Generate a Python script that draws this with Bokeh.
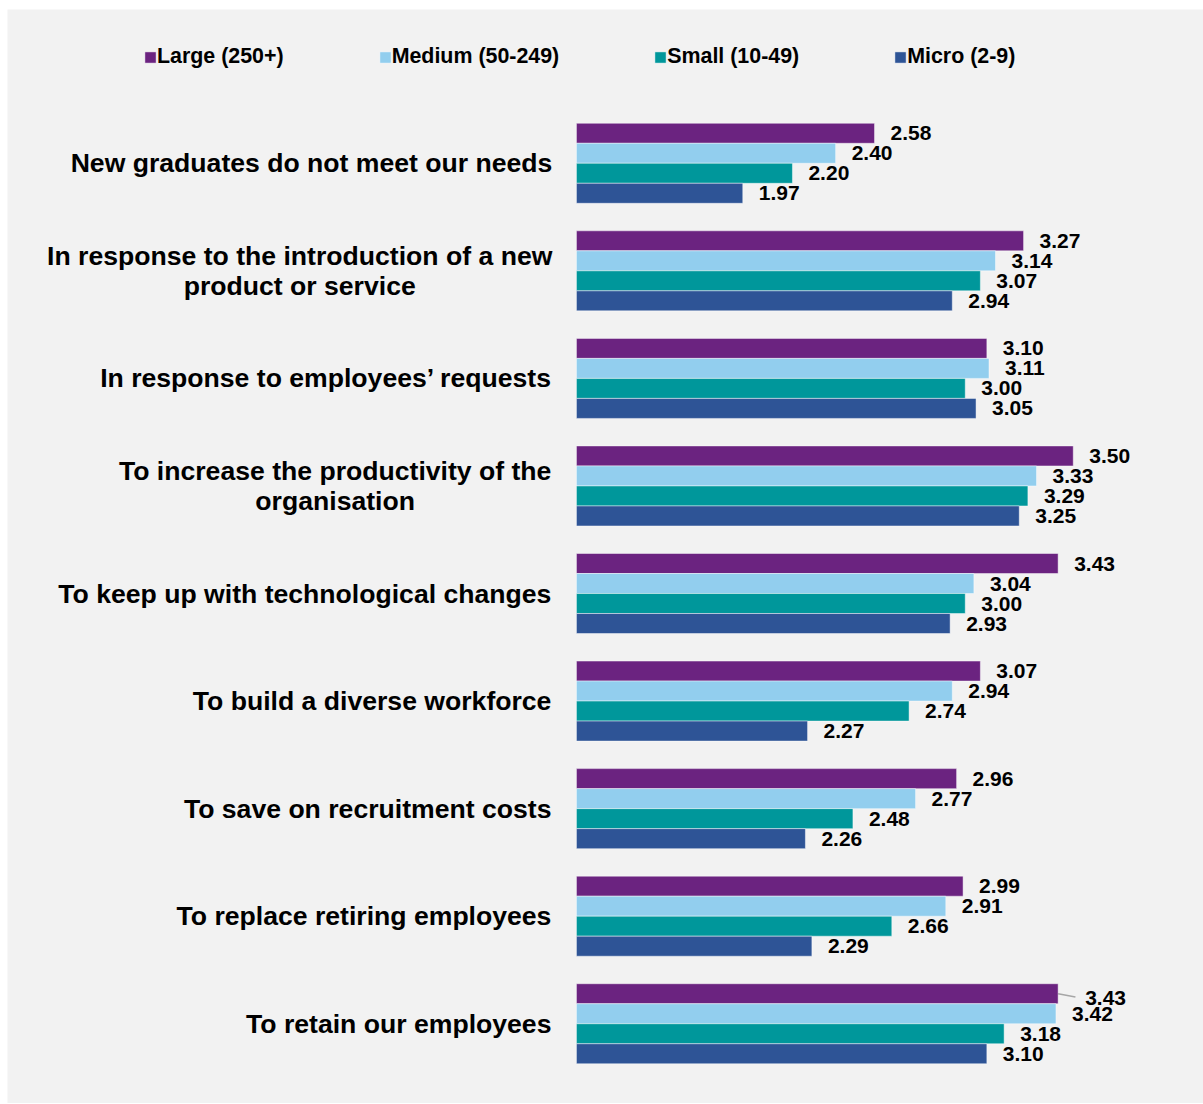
from bokeh.plotting import figure
from bokeh.models import ColumnDataSource, Range1d, LabelSet, Legend, LegendItem
from bokeh.core.properties import value
from bokeh.embed import file_html
from bokeh.resources import INLINE

categories = [
    "New graduates do not meet our needs",
    "In response to the introduction of a new\nproduct or service",
    "In response to employees\u2019 requests",
    "To increase the productivity of the\norganisation",
    "To keep up with technological changes",
    "To build a diverse workforce",
    "To save on recruitment costs",
    "To replace retiring employees",
    "To retain our employees",
]
series_names = ["Large (250+)", "Medium (50-249)", "Small (10-49)", "Micro (2-9)"]
large = [2.58, 3.27, 3.10, 3.50, 3.43, 3.07, 2.96, 2.99, 3.43]
medium = [2.40, 3.14, 3.11, 3.33, 3.04, 2.94, 2.77, 2.91, 3.42]
small = [2.20, 3.07, 3.00, 3.29, 3.00, 2.74, 2.48, 2.66, 3.18]
micro = [1.97, 2.94, 3.05, 3.25, 2.93, 2.27, 2.26, 2.29, 3.10]
colors = ["#6b2380", "#92ceee", "#00979b", "#2e5496"]

XMIN = 1.2            # value where bars start
BAR_H = 0.186
FONT = "Liberation Sans"
CAT_SIZE = 26.6       # px
STANDOFF = 24         # px between label block and bar start

# Liberation Sans Bold advance widths (per 1000 em) for measuring label lines
W = {" ": 278, "\u2019": 278, "a": 556, "b": 611, "c": 556, "d": 611, "e": 556, "f": 333,
     "g": 611, "h": 611, "i": 278, "j": 278, "k": 556, "l": 278, "m": 889, "n": 611,
     "o": 611, "p": 611, "q": 611, "r": 389, "s": 556, "t": 333, "u": 611, "v": 556,
     "w": 778, "x": 556, "y": 556, "z": 500, "I": 278, "T": 611, "N": 722}


def block_width(s):
    return max(sum(W.get(ch, 556) for ch in line) for line in s.split("\n")) * CAT_SIZE / 1000.0


p = figure(width=1196, height=1094, x_range=Range1d(-1.434, 4.103), y_range=Range1d(8.7414, -1.4297),
           output_backend="svg", toolbar_location=None,
           min_border_left=0, min_border_right=0, min_border_top=0, min_border_bottom=0,
           background_fill_color="#f2f2f2", border_fill_color="#f2f2f2", outline_line_color=None)
p.margin = (9, 0, 1, 7)
p.xgrid.visible = False
p.ygrid.visible = False
p.xaxis.visible = False
p.yaxis.visible = False

# category labels (lines centred within a block whose right edge sits before the bars)
cat_src = ColumnDataSource(dict(
    x=[XMIN] * len(categories), y=list(range(len(categories))), txt=categories,
    xo=[-(STANDOFF + block_width(c) / 2.0) for c in categories]))
p.text(x="x", y="y", text="txt", source=cat_src, x_offset="xo", text_align="center",
       text_baseline="middle", text_font=value(FONT), text_font_style="bold",
       text_font_size=value("%spx" % CAT_SIZE), text_color="black", text_line_height=1.0)

renderers = []
all_series = [large, medium, small, micro]
for k, (vals, col) in enumerate(zip(all_series, colors)):
    off = (k - 1.5) * BAR_H
    ys = [i + off for i in range(len(categories))]
    xo = [16] * len(vals)
    yo = [0] * len(vals)
    if k == 0:
        xo[-1] = 27
        yo[-1] = -4
    src = ColumnDataSource(dict(y=ys, right=vals, left=[XMIN] * len(vals),
                                txt=["%.2f" % v for v in vals], xo=xo, yo=yo))
    r = p.hbar(y="y", left="left", right="right", height=BAR_H, source=src,
               fill_color=col, line_color="white", line_alpha=0.45, line_width=1)
    renderers.append(r)
    p.add_layout(LabelSet(x="right", y="y", text="txt", source=src, x_offset="xo", y_offset="yo",
                          text_baseline="middle", text_align="left", text_font=value(FONT),
                          text_font_style="bold", text_font_size=value("21px"), text_color="black"))

# leader line for the shifted label in the last group
last_y = len(categories) - 1 - 1.5 * BAR_H
p.segment(x0=[large[-1]], y0=[last_y], x1=[large[-1] + 0.08], y1=[last_y + 0.03],
          line_color="#a6a6a6", line_width=1.5)

legend = Legend(items=[LegendItem(label=n, renderers=[r]) for n, r in zip(series_names, renderers)],
                orientation="horizontal", location=(136, 1034), spacing=94,
                glyph_width=14, glyph_height=14, label_standoff=0, padding=0, margin=0,
                border_line_color=None, background_fill_alpha=0,
                label_text_font=FONT, label_text_font_style="bold", label_text_font_size="21.4px",
                label_text_color="black")
p.add_layout(legend)

open("out.html", "w").write(file_html(p, INLINE))
